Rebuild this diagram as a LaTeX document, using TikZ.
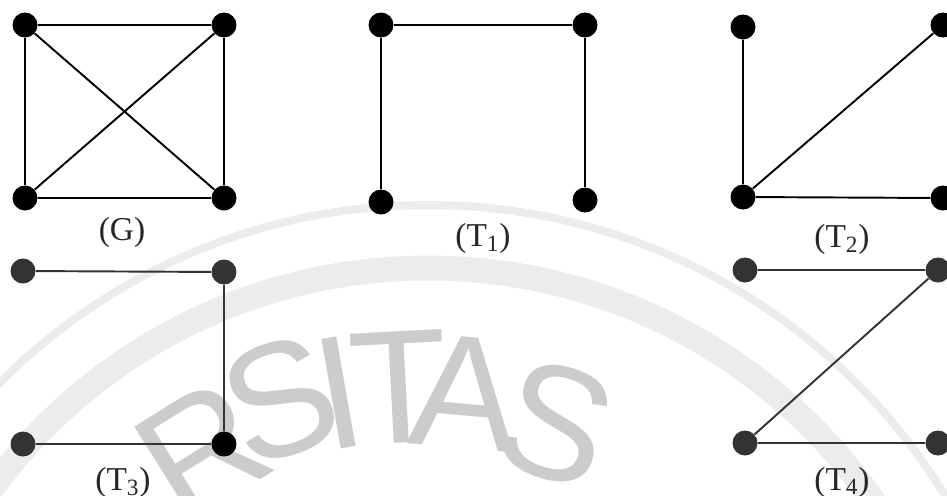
\documentclass[tikz,border=0pt]{standalone}
\usepackage{fontspec}
\setmainfont{Liberation Serif}
\newfontfamily\wmfont{Liberation Sans}
\usetikzlibrary{positioning}
\definecolor{wmgray}{RGB}{204,204,204}
\definecolor{wmline}{RGB}{236,236,236}
\tikzset{
  vtx/.style={circle, fill=black, inner sep=0pt, minimum size=0.5cm},
  vtxl/.style={vtx, fill=black!80},
  edg/.style={black, line width=1.1pt},
  edgl/.style={edg, draw=black!80},
  glab/.style={font=\fontsize{19}{22}\selectfont, inner sep=0pt, text=black!85},
  wmarc/.style={draw=wmline},
  wmlet/.style={font=\wmfont\fontsize{92}{92}\selectfont, text=wmgray, inner sep=0pt},
}

\begin{document}
\begin{tikzpicture}[x=0.02cm,y=-0.02cm]
\useasboundingbox (0,0) rectangle (947,495);
% faint seal behind the graphs
\draw[wmarc, line width=0.16cm] (428,810) circle (605);
\draw[wmarc, line width=0.5cm] (428,810) circle (542);
\foreach \ch/\px/\py/\rot in {R/203/450/32, S/280/400/20, I/339/393/10, T/399/387/3, A/465/393/-5, S/556/423/-18}
  \node[wmlet, rotate=\rot] at (\px,\py) {\ch};

% G
\node[vtx] (g1) at (25,25) {};
\node[vtx] (g2) at (224,25) {};
\node[vtx] (g3) at (25,198) {};
\node[vtx] (g4) at (224,198) {};
\draw[edg] (g1) -- (g2) -- (g4) -- (g3) -- (g1) -- (g4) (g2) -- (g3);
\node[glab] (lg) at (122,232) {(G)};

% T1
\node[vtx] (a1) at (381,25) {};
\node[vtx] (a2) at (585,25) {};
\node[vtx] (a3) at (381,202) {};
\node[vtx] (a4) at (585,200) {};
\draw[edg] (a3) -- (a1) -- (a2) -- (a4);
\node[glab] (la) at (483,238) {(T\textsubscript{1})};

% T2
\node[vtx] (b1) at (743,27) {};
\node[vtx] (b2) at (943,25) {};
\node[vtx] (b3) at (743,197) {};
\node[vtx] (b4) at (943,198) {};
\draw[edg] (b1) -- (b3) -- (b2) (b3) -- (b4);
\node[glab] (lb) at (842,239) {(T\textsubscript{2})};

% T3
\node[vtxl] (c1) at (23,271) {};
\node[vtxl] (c2) at (224,272) {};
\node[vtxl] (c3) at (23,444) {};
\node[vtx] (c4) at (224,444) {};
\draw[edgl] (c1) -- (c2) -- (c4) -- (c3);
\node[glab] (lc) at (123,482) {(T\textsubscript{3})};

% T4
\node[vtxl] (d1) at (745,270) {};
\node[vtxl] (d2) at (938,270) {};
\node[vtxl] (d3) at (745,443) {};
\node[vtxl] (d4) at (938,443) {};
\draw[edgl] (d1) -- (d2) -- (d3) -- (d4);
\node[glab] (ld) at (842,482) {(T\textsubscript{4})};
\end{tikzpicture}
\end{document}
